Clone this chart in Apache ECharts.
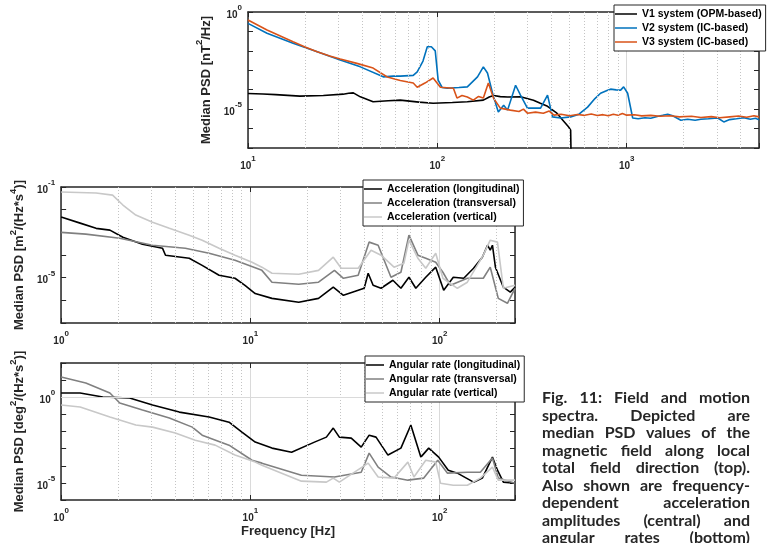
<!DOCTYPE html>
<html><head><meta charset="utf-8">
<script src="https://cdn.jsdelivr.net/npm/echarts@6/dist/echarts.min.js"></script>
<style>html,body{margin:0;padding:0;background:#fff}#c{width:768px;height:543px}</style>
</head><body><div id="c"></div>
<script>
// ---------- DATA (frequency [Hz], median PSD) ----------
const fieldNames = ['V1 system (OPM-based)', 'V2 system (IC-based)', 'V3 system (IC-based)'];
const v1Opm = [[10,6.4e-5],[12,6.0e-5],[14,5.6e-5],[18.8,4.7e-5],[25,5.0e-5],[31.8,5.9e-5],[34,6.6e-5],[36,6.9e-5],[39.2,4.3e-5],[45.8,2.4e-5],[55,2.7e-5],[63.7,2.9e-5],[80,2.3e-5],[95,2.0e-5],[120,2.2e-5],[144,2.4e-5],[175,2.9e-5],[188,4.2e-5],[198,5.0e-5],[215,4.4e-5],[235,4.2e-5],[275,4.3e-5],[322,2.9e-5],[350,2.0e-5],[382,1.4e-5],[428,6.2e-6],[465,2.4e-6],[494,1.2e-6],[506,8.3e-7],[512,1e-9]];
const v2Ic = [[10,0.26],[12.6,0.08],[17.3,0.0245],[23.2,8.9e-3],[30.7,3.4e-3],[39.2,1.5e-3],[51.8,4.6e-4],[58.5,5.0e-4],[63.7,5.0e-4],[74.6,5.5e-4],[78.3,8.3e-4],[84,3e-3],[88.5,0.0163],[93,0.0163],[97.5,0.01],[101,3.1e-4],[106,1.3e-4],[113,1.2e-4],[130,1.3e-4],[144,1.4e-4],[163,4.6e-4],[175,1.5e-3],[184,7.2e-4],[198,4.3e-5],[210,7.2e-6],[224,1.6e-5],[235,8.9e-6],[259,1.7e-4],[275,5.3e-5],[299,1.13e-5],[351,1.13e-5],[382,5.3e-5],[406,4e-6],[448,3.5e-6],[506,4e-6],[560,5.5e-6],[622,1.27e-5],[680,3.5e-5],[728,6.6e-5],[793,9.5e-5],[822,1.07e-4],[880,9.8e-5],[929,9.5e-5],[964,1.4e-4],[1012,6.6e-5],[1076,3.5e-6],[1150,3.2e-6],[1250,3.6e-6],[1340,3.4e-6],[1450,4.2e-6],[1550,4.8e-6],[1648,5.5e-6],[1750,4.6e-6],[1850,3.4e-6],[1932,2.7e-6],[2100,3.0e-6],[2300,2.7e-6],[2466,3.0e-6],[2700,3.2e-6],[3030,3.5e-6],[3258,2.2e-6],[3500,2.9e-6],[3800,3.2e-6],[4159,3.6e-6],[4500,3.0e-6],[4800,3.4e-6],[5000,2.8e-6]];
const v3Ic = [[10,0.39],[12.6,0.118],[17.3,0.0295],[20,0.0160],[23.2,8.9e-3],[27,5.5e-3],[30.7,3.8e-3],[38,2.2e-3],[45.8,1.3e-3],[54.4,4.5e-4],[63.7,3.0e-4],[74.6,2.2e-4],[78.3,1.35e-4],[86,2.2e-4],[95,4.0e-4],[103.8,1.35e-4],[121.6,1.2e-4],[127,3.7e-5],[135,5e-5],[144,4.2e-5],[155,2.9e-5],[165,4.5e-5],[175,3.7e-5],[186,2.2e-4],[198,3.7e-5],[215,1.13e-5],[243,8.9e-6],[270,7.5e-6],[285,1.0e-5],[299,6.2e-6],[330,7e-6],[363,6.2e-6],[390,8e-6],[413,4.9e-6],[450,5.5e-6],[500,4.6e-6],[550,5.3e-6],[600,4.8e-6],[650,5.6e-6],[700,4.7e-6],[750,5.2e-6],[800,4.6e-6],[850,5.4e-6],[900,4.8e-6],[950,6.0e-6],[1000,4.9e-6],[1100,5.1e-6],[1200,4.5e-6],[1340,4.8e-6],[1500,4.3e-6],[1700,4.6e-6],[1900,4.0e-6],[2200,4.3e-6],[2466,3.7e-6],[2800,4.1e-6],[3100,3.6e-6],[3500,4.0e-6],[3900,4.4e-6],[4300,3.8e-6],[4700,4.6e-6],[5000,4.0e-6]];

const accNames = ['Acceleration (longitudinal)', 'Acceleration (transversal)', 'Acceleration (vertical)'];
const accLong = [[1,4.7e-3],[1.26,2.55e-3],[1.53,1.5e-3],[1.81,1.25e-3],[2.12,6.1e-4],[2.69,3.0e-4],[3.43,2.0e-4],[3.56,9.8e-5],[4.75,7.2e-5],[5.56,3.5e-5],[6.83,1.28e-5],[8.29,9.4e-6],[9.36,4.6e-6],[10.6,2.0e-6],[13,1.22e-6],[18,8.2e-7],[22.9,1.22e-6],[27.4,3.8e-6],[31,1.66e-6],[39.9,3.4e-6],[41.9,1.57e-5],[44.5,4.6e-6],[49,3.4e-6],[56.6,7.7e-6],[62.4,3.4e-6],[68.8,1.04e-5],[74.8,3.4e-6],[84.4,1.04e-5],[95.3,2.9e-5],[105,2.8e-6],[118,1.04e-5],[134,9.4e-6],[151,2.6e-5],[168,8.0e-5],[179,2.7e-4],[185,1.63e-4],[190,2.7e-4],[197,2.9e-5],[217,3.8e-6],[236,2.3e-6],[250,3.8e-6]];
const accTrans = [[1,1.0e-3],[1.35,8.3e-4],[2.04,5.5e-4],[3.04,2.7e-4],[4.53,2.0e-4],[6.05,1.2e-4],[8.29,5.9e-5],[11.5,2.1e-5],[13,6.3e-6],[18,5.1e-6],[22.9,6.3e-6],[27.8,2.1e-5],[31,9.4e-6],[37.1,1.28e-5],[42.4,3.7e-4],[47.3,2.7e-4],[55.3,1.04e-5],[62.4,1.73e-5],[68.8,7.5e-4],[76.7,9.8e-5],[84.4,7.2e-5],[95.3,4.8e-5],[104,1.73e-5],[114,4.6e-6],[140,9.4e-6],[170,9.4e-6],[185,2.9e-5],[204,1.22e-6],[228,7.4e-7],[250,3.4e-6]];
const accVert = [[1,6.0e-2],[1.53,5.4e-2],[1.87,4.4e-2],[2.12,1.6e-2],[2.48,5.8e-3],[3.04,2.8e-3],[3.73,1.5e-3],[4.75,7.5e-4],[5.56,4.5e-4],[6.83,2.0e-4],[8.29,9.8e-5],[10.2,4.8e-5],[11.5,2.9e-5],[13,1.57e-5],[18,1.41e-5],[22.9,2.1e-5],[27.4,8.0e-5],[30.2,2.6e-5],[37.1,2.6e-5],[43.4,1.63e-4],[49,9.8e-5],[57.4,2.9e-5],[64.7,4.3e-5],[68.8,4.5e-4],[76.7,7.2e-5],[84.4,2.6e-5],[95.3,1.2e-4],[104,9.4e-6],[124,3.4e-6],[140,6.3e-6],[170,9.8e-5],[185,4.5e-4],[202,3.7e-4],[217,3.4e-6],[250,4.6e-6]];

const angNames = ['Angular rate (longitudinal)', 'Angular rate (transversal)', 'Angular rate (vertical)'];
const angLong = [[1,1.76],[1.26,1.76],[1.66,1.03],[2.3,0.9],[3.04,0.35],[4.21,0.136],[6.05,0.07],[7.71,0.035],[9.02,9.2e-3],[10.6,2.4e-3],[13,1.07e-3],[16.5,6.2e-4],[21.8,2.4e-3],[25.2,4.7e-3],[27.4,0.0158],[29.5,4.7e-3],[34.1,4.1e-3],[38.5,1.22e-3],[42.4,6.1e-3],[46.1,4.7e-3],[53.3,4.2e-4],[62.4,1.07e-3],[70.4,0.024],[79.5,3.2e-4],[87.5,1.07e-3],[98.8,3.2e-4],[111,5.5e-5],[124,3.7e-5],[151,1.1e-5],[168,1.9e-5],[190,3.2e-4],[202,5.5e-5],[217,1.1e-5],[250,9.6e-6]];
const angTrans = [[1,15.2],[1.35,6.8],[1.81,1.76],[2.04,0.46],[2.69,0.18],[3.73,0.061],[4.93,0.018],[5.56,6.1e-3],[7.71,1.6e-3],[10.2,2.1e-4],[11.5,1.42e-4],[18.6,2.8e-5],[27.8,2.2e-5],[38.5,4.2e-5],[42.4,5.5e-4],[47.3,8.3e-5],[55.3,2.2e-5],[67.9,1.44e-5],[82.4,1.9e-5],[97.7,2.1e-4],[110,3.7e-5],[140,4.2e-5],[164,4.2e-5],[190,2.8e-4],[204,1.9e-5],[250,9.6e-6]];
const angVert = [[1,0.35],[1.26,0.27],[1.81,0.07],[2.48,0.024],[3.04,0.018],[4.01,8.1e-3],[5.11,3.1e-3],[6.51,1.6e-3],[8.29,4.2e-4],[10.6,1.63e-4],[11.5,1.08e-4],[18.6,1.26e-5],[25.2,1.1e-5],[27.4,1.9e-5],[29.5,1.1e-5],[41.9,1.42e-4],[47.3,2.2e-5],[57.4,1.9e-5],[67.9,1.63e-4],[73.1,2.2e-5],[84.4,2.1e-4],[95.3,1.63e-4],[101,9.6e-6],[118,7.3e-6],[140,7.3e-6],[164,1.9e-5],[190,8.3e-5],[204,1.44e-5],[250,1.44e-5]];

// tick labels (decade exponents shown) and grid lines
const topXLabelExp = [1, 2, 3];
const topYLabelExp = [0, -5];
const midYLabelExp = [-1, -5];
const botYLabelExp = [0, -5];
const lowXLabelExp = [0, 1, 2];
const topMinorFreq = [20,30,40,50,60,70,80,90,200,300,400,500,600,700,800,900,2000,3000,4000];
const lowMinorFreq = [2,3,4,5,6,7,8,9,20,30,40,50,60,70,80,90,200];
const topHGrid = [1e-5];
const midHGrid = [1e-5];
const botHGrid = [1, 1e-5];

const captionLines = ['Fig. 11: Field and motion','spectra. Depicted are','median PSD values of the','magnetic field along local','total field direction (top).','Also shown are frequency-','dependent acceleration','amplitudes (central) and','angular rates (bottom)'];

// ---------- STYLE ----------
const F = 'Liberation Sans';
const AX = '#262626';
const rich = {
  b: {fontFamily: F, fontWeight: 'bold', fontSize: 10, color: AX, verticalAlign: 'bottom', lineHeight: 16},
  s: {fontFamily: F, fontWeight: 'bold', fontSize: 8, color: AX, verticalAlign: 'top', lineHeight: 9}
};
const nameRich = {
  t: {fontFamily: F, fontWeight: 'bold', fontSize: 13, color: AX, verticalAlign: 'bottom', lineHeight: 18},
  s: {fontFamily: F, fontWeight: 'bold', fontSize: 9.5, color: AX, verticalAlign: 'top', lineHeight: 11}
};
function labFmt(list) {
  return function (v) {
    const l = Math.log10(v), e = Math.round(l);
    if (Math.abs(l - e) > 1e-6) return '';
    return list.indexOf(e) >= 0 ? '{b|10}{s|' + e + '}' : '';
  };
}
function xAxisPair(gi, min, max, labels, extra) {
  const main = Object.assign({
    type: 'log', logBase: 10, gridIndex: gi, min: min, max: max, position: 'bottom',
    axisLine: {show: true, onZero: false, lineStyle: {color: AX, width: 1.5}},
    axisTick: {show: true, inside: true, length: 5, lineStyle: {color: AX}},
    axisLabel: {margin: 7, formatter: labFmt(labels), rich: rich},
    splitLine: {show: true, lineStyle: {color: '#dadada', width: 1}}
  }, extra || {});
  const top = {
    type: 'log', logBase: 10, gridIndex: gi, min: min, max: max, position: 'top',
    axisLine: {show: true, onZero: false, lineStyle: {color: AX, width: 1.5}},
    axisTick: {show: true, inside: true, length: 5, lineStyle: {color: AX}},
    axisLabel: {show: false}, splitLine: {show: false}
  };
  return [main, top];
}
function yAxisPair(gi, min, max, labels, name, gap) {
  const main = {
    type: 'log', logBase: 10, gridIndex: gi, min: min, max: max, position: 'left',
    axisLine: {show: true, onZero: false, lineStyle: {color: AX, width: 1.5}},
    axisTick: {show: true, inside: true, length: 5, lineStyle: {color: AX}},
    axisLabel: {margin: 6, formatter: labFmt(labels), rich: rich},
    splitLine: {show: false},
    name: name, nameLocation: 'middle', nameGap: gap, nameTextStyle: {rich: nameRich}
  };
  const right = {
    type: 'log', logBase: 10, gridIndex: gi, min: min, max: max, position: 'right',
    axisLine: {show: true, onZero: false, lineStyle: {color: AX, width: 1.5}},
    axisTick: {show: true, inside: true, length: 5, lineStyle: {color: AX}},
    axisLabel: {show: false}, splitLine: {show: false}
  };
  return [main, right];
}
function gridSeries(xi, yi, minorV, hLines) {
  return {
    type: 'line', xAxisIndex: xi, yAxisIndex: yi, data: [], silent: true, z: 1, animation: false,
    markLine: {
      silent: true, symbol: 'none', label: {show: false}, animation: false,
      data: minorV.map(f => ({xAxis: f, lineStyle: {type: [1, 2], color: '#c4c4c4', width: 1}}))
        .concat(hLines.map(v => ({yAxis: v, lineStyle: {type: 'solid', color: '#dadada', width: 1}})))
    }
  };
}
function ln(name, data, color, xi, yi, w) {
  return {name: name, type: 'line', data: data, xAxisIndex: xi, yAxisIndex: yi, symbol: 'none', showSymbol: false,
    lineStyle: {color: color, width: w}, itemStyle: {color: color}, z: 3, animation: false, clip: true};
}
function legendAt(names, left, top, iw) {
  return {data: names, left: left, top: top, orient: 'vertical', icon: 'rect', itemWidth: iw, itemHeight: 1.5, itemGap: 2,
    padding: [3, 4, 3, 1], backgroundColor: '#fff', borderColor: AX, borderWidth: 1, selectedMode: false, z: 10,
    textStyle: {fontFamily: F, fontWeight: 'bold', fontSize: 10.5, color: '#000', lineHeight: 12}};
}

const xs = [].concat(
  xAxisPair(0, 10, 5000, topXLabelExp),
  xAxisPair(1, 1, 250, lowXLabelExp),
  xAxisPair(2, 1, 250, lowXLabelExp, {name: 'Frequency [Hz]', nameLocation: 'middle', nameGap: 25,
    nameTextStyle: {fontFamily: F, fontWeight: 'bold', fontSize: 13, color: AX}})
);
const ys = [].concat(
  yAxisPair(0, 1e-7, 1, topYLabelExp, '{t|Median PSD [nT}{s|2}{t|/Hz]}', 28),
  yAxisPair(1, 1e-7, 1e-1, midYLabelExp, '{t|Median PSD [m}{s|2}{t|/(Hz*s}{s|4}{t|)]}', 25),
  yAxisPair(2, 1e-6, 100, botYLabelExp, '{t|Median PSD [deg}{s|2}{t|/(Hz*s}{s|2}{t|)]}', 25)
);

// caption, justified word by word
const capFont = (s) => 'bold ' + s + 'px Lato';
const meas = document.createElement('canvas').getContext('2d');
const capLeft = 542, capWidth = 208, capTop = 398, capStep = 17.5;
let capSize = 16;
function fits(sz) {
  meas.font = capFont(sz);
  return captionLines.every(l => {
    const w = l.split(' ');
    const sum = w.reduce((a, t) => a + meas.measureText(t).width, 0);
    return sum + 3.5 * (w.length - 1) <= capWidth;
  });
}
while (capSize > 10 && !fits(capSize)) capSize -= 0.5;
meas.font = capFont(capSize);
const graphics = [];
captionLines.forEach((line, i) => {
  const words = line.split(' ');
  const widths = words.map(t => meas.measureText(t).width);
  const sum = widths.reduce((a, b) => a + b, 0);
  const gap = words.length > 1 ? (capWidth - sum) / (words.length - 1) : 0;
  let x = capLeft;
  words.forEach((w, j) => {
    graphics.push({type: 'text', x: x, y: capTop + i * capStep, silent: true,
      style: {text: w, font: capFont(capSize), fill: '#262626', verticalAlign: 'middle', align: 'left'}});
    x += widths[j] + gap;
  });
});

const option = {
  backgroundColor: '#fff',
  animation: false,
  grid: [
    {left: 248, top: 12, width: 511, height: 136},
    {left: 58, top: 187, width: 457, height: 136},
    {left: 58, top: 363, width: 457, height: 137}
  ],
  xAxis: xs,
  yAxis: ys,
  legend: [
    legendAt(fieldNames, 614, 5, 22),
    legendAt(accNames, 363, 180, 18),
    legendAt(angNames, 365, 356, 18)
  ],
  graphic: graphics,
  series: [
    gridSeries(0, 0, topMinorFreq, topHGrid),
    ln(fieldNames[0], v1Opm, '#000000', 0, 0, 1.6),
    ln(fieldNames[1], v2Ic, '#0072BD', 0, 0, 1.6),
    ln(fieldNames[2], v3Ic, '#D95319', 0, 0, 1.6),
    gridSeries(2, 2, lowMinorFreq, midHGrid),
    ln(accNames[0], accLong, '#000000', 2, 2, 1.6),
    ln(accNames[1], accTrans, '#808080', 2, 2, 1.6),
    ln(accNames[2], accVert, '#c8c8c8', 2, 2, 1.6),
    gridSeries(4, 4, lowMinorFreq, botHGrid),
    ln(angNames[0], angLong, '#000000', 4, 4, 1.6),
    ln(angNames[1], angTrans, '#808080', 4, 4, 1.6),
    ln(angNames[2], angVert, '#c8c8c8', 4, 4, 1.6)
  ]
};
const chart = echarts.init(document.getElementById('c'), null, {renderer: 'canvas'});
chart.setOption(option);
</script></body></html>
